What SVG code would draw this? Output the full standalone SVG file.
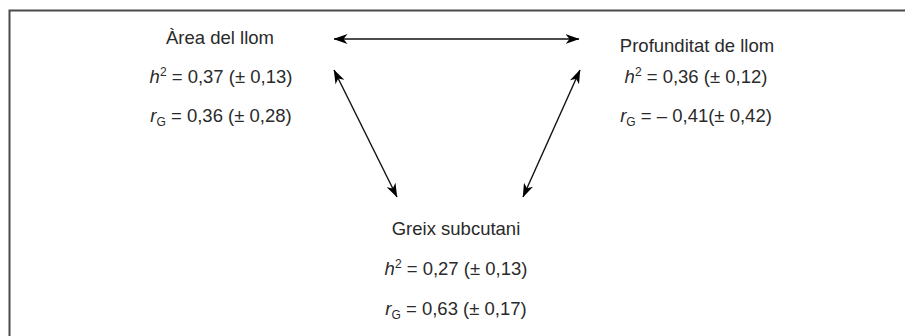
<svg xmlns="http://www.w3.org/2000/svg" width="905" height="336" viewBox="0 0 905 336">
<style>
.t{font-family:"Liberation Sans",Arial,sans-serif;font-size:18.5px;fill:#2a2a2a;text-anchor:middle}
.i{font-style:italic}
.sup{font-size:12px}
.sub{font-size:12px}
.c{stroke:#111;stroke-width:1.4;fill:none;marker-start:url(#ah);marker-end:url(#ah)}
</style>
<defs>
<marker id="ah" markerUnits="userSpaceOnUse" markerWidth="14" markerHeight="10" viewBox="0 0 14 10" refX="13.5" refY="5" orient="auto-start-reverse">
<path d="M0,0 L14,5 L0,10 L4,5 z" fill="#000"/>
</marker>
</defs>
<rect width="905" height="336" fill="#fff"/>
<path d="M9.5,340 V10.5 H910" fill="none" stroke="#4a4a4a" stroke-width="2"/>
<g id="connectors">
<line class="c" x1="334" y1="39" x2="579" y2="39"/>
<line class="c" x1="334" y1="70" x2="397" y2="197"/>
<line class="c" x1="580" y1="70" x2="523" y2="197"/>
</g>
<g id="node-area">
<text class="t" x="220" y="44">Àrea del llom</text>
<text class="t" x="221" y="83"><tspan class="i">h</tspan><tspan class="sup" dy="-7">2</tspan><tspan dy="7"> = 0,37 (± 0,13)</tspan></text>
<text class="t" x="221" y="122"><tspan class="i">r</tspan><tspan class="sub" dy="4">G</tspan><tspan dy="-4"> = 0,36 (± 0,28)</tspan></text>
</g>
<g id="node-profunditat">
<text class="t" x="697" y="52">Profunditat de llom</text>
<text class="t" x="696" y="83"><tspan class="i">h</tspan><tspan class="sup" dy="-7">2</tspan><tspan dy="7"> = 0,36 (± 0,12)</tspan></text>
<text class="t" x="696" y="122"><tspan class="i">r</tspan><tspan class="sub" dy="4">G</tspan><tspan dy="-4"> = – 0,41(± 0,42)</tspan></text>
</g>
<g id="node-greix">
<text class="t" x="456" y="235">Greix subcutani</text>
<text class="t" x="456" y="275"><tspan class="i">h</tspan><tspan class="sup" dy="-7">2</tspan><tspan dy="7"> = 0,27 (± 0,13)</tspan></text>
<text class="t" x="456" y="315"><tspan class="i">r</tspan><tspan class="sub" dy="4">G</tspan><tspan dy="-4"> = 0,63 (± 0,17)</tspan></text>
</g>
</svg>
